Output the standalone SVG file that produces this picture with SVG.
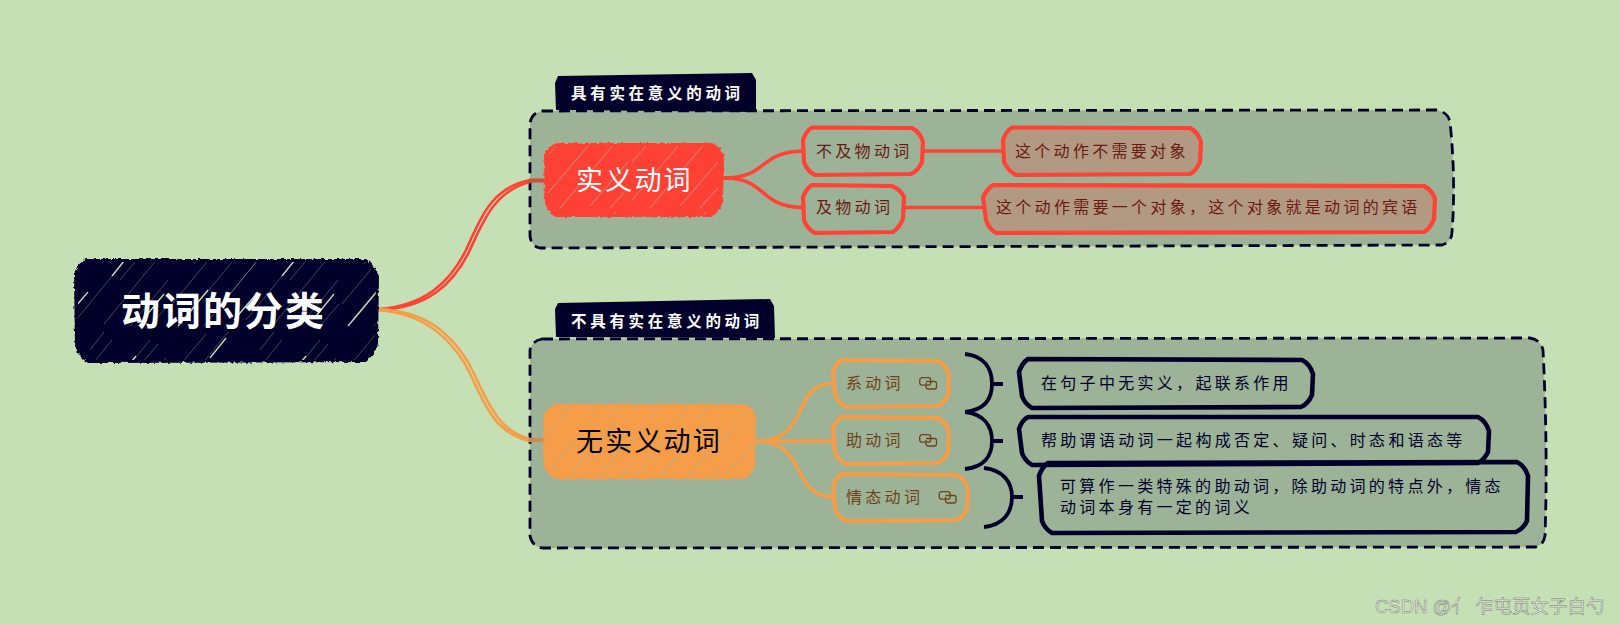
<svg xmlns="http://www.w3.org/2000/svg" width="1620" height="625" viewBox="0 0 1620 625">
<style>
text{font-family:"Noto Sans CJK SC","Noto Sans",sans-serif;white-space:pre}
.band{fill:#00002a;fill-opacity:.2;stroke:#00002a;stroke-width:2.8;stroke-dasharray:11 6}
.tag{fill:#00002a}
.tagt{fill:#fff;font-size:15.500px;font-weight:700;letter-spacing:3.700px}
.t{font-size:16px;letter-spacing:3.300px}
.r{fill:none;stroke:#ff4136;stroke-width:4.200;stroke-linejoin:round}
.rs{fill:#ff4136;fill-opacity:.22;stroke:#ff4136;stroke-width:4.200;stroke-linejoin:round}
.o{fill:none;stroke:#f69d48;stroke-width:4.200;stroke-linejoin:round}
.n{fill:none;stroke:#00002a;stroke-width:4.600;stroke-linejoin:round}
.rt{fill:#6b1a12}.ot{fill:#6f4317}.nt{fill:#00002a}
.c{fill:none;stroke-linecap:round}
.cr{stroke:#ff4136}.co{stroke:#f69d48}
.br{fill:none;stroke:#00002a;stroke-width:3.800}
.ic{fill:none;stroke:#6f4317;stroke-width:1.300}
</style>
<defs>
<filter id="rough" x="-5%" y="-10%" width="110%" height="120%"><feTurbulence type="fractalNoise" baseFrequency=".28" numOctaves="2" seed="4"/><feDisplacementMap in="SourceGraphic" scale="4" xChannelSelector="R" yChannelSelector="G"/></filter>
<pattern id="hRoot" width="170" height="110" patternUnits="userSpaceOnUse">
<g stroke="#c5e0b4" fill="none" stroke-width=".7" stroke-opacity=".45">
<path d="M2 84L42 36M14 100L72 30M34 106L96 30M52 84L112 10M76 100L150 10M104 104L166 28M120 60L158 14M6 40L36 4M24 44L58 2M130 106L168 60M150 106L169 84M90 20L104 2"/>
</g>
<g stroke="#c5e0b4" fill="none" stroke-width="1.300">
<path d="M8 106L38 70M64 100L88 72M112 56L136 26M40 28L56 8M146 96L164 74"/>
</g></pattern>
<pattern id="hCol" width="90" height="70" patternUnits="userSpaceOnUse">
<g stroke="#9db199" fill="none" stroke-width=".9" stroke-opacity=".8">
<path d="M2 60L48 6M20 68L76 2M50 66L88 22M70 68L88 48M2 22L18 4"/>
</g></pattern>
<pattern id="hSum" width="70" height="48" patternUnits="userSpaceOnUse">
<g stroke="#9db199" fill="none" stroke-width=".9" stroke-opacity=".7"><path d="M4 46L36 6M40 44L68 8"/></g></pattern>
<g id="ic"><rect class="ic" x=".7" y=".7" width="11" height="7.500" rx="2.500"/><path class="ic" d="M7 4.500H15.500Q17.500 4.500 17.500 6.500V10Q17.500 12 15.500 12H9.500Q7 12 7 9.500V6"/></g>
</defs>
<rect width="1620" height="625" fill="#c5e0b4"/>

<g id="band1">
<path class="band" d="M542 111L1436 110Q1448 112 1450 122Q1456 180 1452 232Q1452 242 1442 245L540 248Q531 246 530 236L530 124Q531 113 542 111Z"/>
<path class="tag" d="M558 76L752 73L756 80L756 112L556 110L555 83Z"/>
<text class="tagt" x="571" y="99">具有实在意义的动词</text>
</g>
<g id="band2">
<path class="band" d="M542 339L1530 338Q1541 340 1543 350Q1548 450 1545 536Q1543 546 1535 547L542 548Q532 546 530 536L530 350Q532 341 542 339Z"/>
<path class="tag" d="M558 303L770 299L774 306L775 338L556 337L555 309Z"/>
<text class="tagt" x="571" y="327">不具有实在意义的动词</text>
</g>

<g id="connectors">
<g class="c cr" stroke-width="2.600">
<path d="M379 309C425 306 450 282 466 250C480 220 490 188 530 180"/>
<path d="M379 310C428 308 453 284 469 252C483 222 494 191 530 182"/>
<path d="M530 180.500H544" stroke="#c8503f" stroke-width="4"/>
</g>
<g class="c co" stroke-width="2.600">
<path d="M379 309C428 311 452 336 468 362C486 395 494 430 530 439"/>
<path d="M379 310C425 314 449 338 465 364C483 397 490 432 530 441"/>
<path d="M530 440H544" stroke="#d08a50" stroke-width="4"/>
</g>
<g class="c cr" stroke-width="3.600">
<path d="M724 178C768 178 758 152 803 151"/>
<path d="M724 178C768 178 758 207 803 207.500"/>
<path d="M923 151H1003"/>
<path d="M904 207.500H983"/>
</g>
<g class="c co" stroke-width="3.600">
<path d="M756 441C812 441 790 384 833 383"/>
<path d="M756 441H833"/>
<path d="M756 441C808 441 790 496 833 497"/>
</g>
</g>

<g id="root">
<g filter="url(#rough)"><path d="M86 259L366 259Q372 262 379 276L378 345Q374 355 366 362L88 363Q80 358 75 348L74 273Q78 263 86 259Z" fill="#00002a"/></g>
<path d="M88 262L366 262L376 276L375 345L364 360L88 360L78 348L78 273Z" fill="url(#hRoot)"/>
<text x="121" y="325" fill="#fff" font-size="39" font-weight="700" letter-spacing="2">动词的分类</text>
</g>
<g id="node-real">
<g filter="url(#rough)"><path d="M556 143L712 143Q720 146 724 156L723 203Q719 212 712 217L556 217Q549 213 545 204L544 155Q548 146 556 143Z" fill="#ff4136"/></g>
<path d="M556 146L712 146L721 156L720 203L710 214L556 214L548 204L548 155Z" fill="url(#hCol)"/>
<text x="576" y="190" fill="#fff" font-size="27" letter-spacing="2.200">实义动词</text>
</g>
<g id="node-none">
<g filter="url(#rough)"><path d="M556 404L744 404Q752 407 756 416L755 466Q751 475 744 479L556 479Q548 475 544 466L543 416Q547 407 556 404Z" fill="#f69d48"/></g>
<path d="M556 407L744 407L753 416L752 466L742 476L556 476L547 466L546 416Z" fill="url(#hCol)"/>
<text x="576" y="451" fill="#000" font-size="27" letter-spacing="2.200">无实义动词</text>
</g>

<g id="n-bujiwu"><path class="r" d="M812 127.500L912 128Q920 132 923 142L922 162Q918 171 911 174L815 175Q807 171 804 162L803 140Q806 131 812 127.500Z"/><text class="t rt" x="816" y="157">不及物动词</text></g>
<g id="n-jiwu"><path class="r" d="M812 185L892 186Q900 189 904 197L903 219Q899 228 893 232L815 233Q807 229 804 220L803 197Q806 189 812 185Z"/><text class="t rt" x="816" y="213">及物动词</text></g>
<g id="s-bujiwu"><path d="M1016 129L1190 129L1199 142L1198 162L1189 173L1016 173L1006 162L1005 140Z" fill="url(#hSum)"/><path class="rs" d="M1012 127.500L1190 128Q1198 132 1201 142L1200 162Q1196 171 1190 174L1016 175Q1008 171 1004 162L1003 140Q1006 131 1012 127.500Z"/><text class="t rt" x="1015" y="157">这个动作不需要对象</text></g>
<g id="s-jiwu"><path d="M995 187L1424 187L1433 199L1432 219L1423 231L996 231L988 220L985 197Z" fill="url(#hSum)"/><path class="rs" d="M993 185L1424 186Q1432 190 1435 199L1434 219Q1430 229 1424 232L996 233Q989 229 986 220L983 197Q987 189 993 185Z"/><text class="t rt" x="996" y="213">这个动作需要一个对象，这个对象就是动词的宾语</text></g>

<g id="n-xi"><path class="o" d="M842 360L938 361Q946 365 949 375L948 395Q944 403 938 406L846 407Q838 403 835 395L833 372Q836 363 842 360Z"/><text class="t ot" x="846" y="389">系动词</text><use href="#ic" x="919" y="377"/></g>
<g id="n-zhu"><path class="o" d="M842 417L938 418Q946 422 949 432L948 452Q944 460 938 463L846 464Q838 460 835 452L833 429Q836 420 842 417Z"/><text class="t ot" x="846" y="446">助动词</text><use href="#ic" x="919" y="434"/></g>
<g id="n-qing"><path class="o" d="M842 474L957 475Q965 479 968 489L967 509Q963 517 957 520L846 521Q838 517 835 509L833 486Q836 477 842 474Z"/><text class="t ot" x="846" y="503">情态动词</text><use href="#ic" x="938.500" y="491"/></g>

<g id="bracket1"><path class="br" d="M965 354C984 356 992 368 992 384C992 400 984 410 965 412M992 384H1003"/></g>
<g id="bracket2"><path class="br" d="M965 412C984 414 992 426 992 441C992 456 984 467 965 469M992 441H1003"/></g>
<g id="bracket3"><path class="br" d="M984 468C1003 470 1012 482 1012 497C1012 513 1003 525 984 527M1012 497H1023"/></g>

<g id="s-xi"><path class="n" d="M1028 359L1302 360Q1310 364 1313 374L1312 395Q1308 404 1301 407L1032 408Q1025 404 1022 396L1019 372Q1022 363 1028 359Z"/><text class="t nt" x="1041" y="389">在句子中无实义，起联系作用</text></g>
<g id="s-zhu"><path class="n" d="M1028 417L1478 417Q1486 421 1489 431L1488 452Q1484 460 1478 463L1032 465Q1025 461 1022 453L1019 429Q1022 420 1028 417Z"/><text class="t nt" x="1041" y="446">帮助谓语动词一起构成否定、疑问、时态和语态等</text></g>
<g id="s-qing"><path class="n" d="M1048 463L1517 462Q1525 466 1528 476L1527 521Q1523 529 1516 532L1052 533Q1045 529 1042 521L1039 476Q1042 467 1048 463Z"/><text class="t nt" x="1060" y="492">可算作一类特殊的助动词，除助动词的特点外，情态</text><text class="t nt" x="1060" y="513">动词本身有一定的词义</text></g>

<text id="watermark" x="1375" y="613" fill="#eef2ea" stroke="#6f7a6c" stroke-width=".5" font-size="18.500" style="font-family:'Liberation Sans','Noto Sans CJK SC',sans-serif">CSDN @亻 乍屯页女子白勺</text>
</svg>
